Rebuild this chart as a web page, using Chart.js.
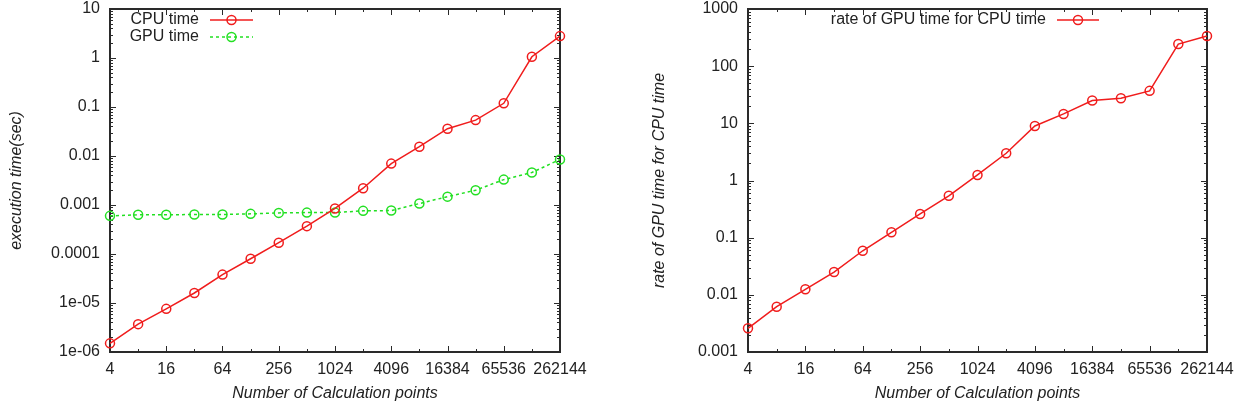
<!DOCTYPE html>
<html>
<head>
<meta charset="utf-8">
<script src="https://cdn.jsdelivr.net/npm/chart.js@4.4.1/dist/chart.umd.min.js"></script>
<style>
  html, body { margin: 0; padding: 0; background: #fff; overflow: hidden; }
  #c1 { position: absolute; left: 0; top: 0; }
  #c2 { position: absolute; left: 617px; top: 0; }
</style>
</head>
<body>
<canvas id="c1" width="617" height="405"></canvas>
<canvas id="c2" width="617" height="405"></canvas>
<script>
// ---- data ----
const calcPoints = [4, 8, 16, 32, 64, 128, 256, 512, 1024, 2048, 4096, 8192, 16384, 32768, 65536, 131072, 262144];
const cpuTime = [1.5e-6, 3.7e-6, 7.6e-6, 1.6e-5, 3.8e-5, 8.0e-5, 1.7e-4, 3.7e-4, 8.5e-4, 2.2e-3, 7.0e-3, 0.0155, 0.036, 0.054, 0.119, 1.06, 2.8];
const gpuTime = [6.0e-4, 6.3e-4, 6.3e-4, 6.4e-4, 6.4e-4, 6.6e-4, 6.9e-4, 7.0e-4, 7.0e-4, 7.6e-4, 7.7e-4, 1.07e-3, 1.48e-3, 2.0e-3, 3.3e-3, 4.6e-3, 8.5e-3];
const rateGpuCpu = [0.0026, 0.0062, 0.0125, 0.025, 0.059, 0.124, 0.26, 0.54, 1.25, 3.0, 9.0, 14.6, 25, 27.4, 37, 244, 337];

const xTickValues = [4, 16, 64, 256, 1024, 4096, 16384, 65536, 262144];
const xTickLabels = ['4', '16', '64', '256', '1024', '4096', '16384', '65536', '262144'];
const timeTickValues = [1e-6, 1e-5, 1e-4, 1e-3, 1e-2, 1e-1, 1, 10];
const timeTickLabels = ['1e-06', '1e-05', '0.0001', '0.001', '0.01', '0.1', '1', '10'];
const rateTickValues = [0.001, 0.01, 0.1, 1, 10, 100, 1000];
const rateTickLabels = ['0.001', '0.01', '0.1', '1', '10', '100', '1000'];

const xTitle = 'Number of Calculation points';
const leftYTitle = 'execution time(sec)';
const rightYTitle = 'rate of GPU time for CPU time';
const cpuLabel = 'CPU time';
const gpuLabel = 'GPU time';
const rateLabel = 'rate of GPU time for CPU time';

// ---- styles ----
const FONT = "'Liberation Sans', Arial, Helvetica, sans-serif";
const TEXT = '#222';
const RED = '#f01c1c';
const GREEN = '#22e022';

function pts(xs, ys) { return xs.map((x, i) => ({ x: x, y: ys[i] })); }

// frame + inward ticks (gnuplot style)
const framePlugin = {
  id: 'gframe',
  beforeDatasetsDraw(chart) {
    const { ctx, chartArea: a, scales } = chart;
    const xs = scales.x, ys = scales.y;
    ctx.save();
    ctx.strokeStyle = '#2a2a2a';
    ctx.lineWidth = 1;
    const major = 6, minor = 3;
    ctx.beginPath();
    for (let v = xs.min; v <= xs.max * 1.0001; v *= 2) {
      const px = Math.round(xs.getPixelForValue(v)) + 0.5;
      const isMajor = xTickValues.some(t => Math.abs(t - v) / t < 1e-6);
      const L = isMajor ? major : minor;
      ctx.moveTo(px, a.bottom); ctx.lineTo(px, a.bottom - L);
      ctx.moveTo(px, a.top); ctx.lineTo(px, a.top + L);
    }
    for (let d = ys.min; d < ys.max * 0.999; d *= 10) {
      for (let m = 1; m <= 9; m++) {
        const v = d * m;
        const py = Math.round(ys.getPixelForValue(v)) + 0.5;
        const L = m === 1 ? major : minor;
        ctx.moveTo(a.left, py); ctx.lineTo(a.left + L, py);
        ctx.moveTo(a.right, py); ctx.lineTo(a.right - L, py);
      }
    }
    ctx.stroke();
    ctx.lineWidth = 2;
    ctx.strokeStyle = '#2a2a2a';
    ctx.strokeRect(a.left, a.top, a.right - a.left, a.bottom - a.top);
    ctx.restore();
  }
};

// gnuplot-like key: text right-aligned, then line sample with marker
const keyPlugin = {
  id: 'gkey',
  afterDatasetsDraw(chart, args, opts) {
    const { ctx } = chart;
    ctx.save();
    ctx.font = '16px ' + FONT;
    ctx.textAlign = 'right';
    ctx.textBaseline = 'middle';
    chart.data.datasets.forEach((ds, i) => {
      const y = opts.y + i * opts.dy;
      ctx.fillStyle = TEXT;
      ctx.fillText(ds.label, opts.textRight, y);
      ctx.strokeStyle = ds.borderColor;
      ctx.lineWidth = ds.borderWidth;
      ctx.setLineDash(ds.borderDash || []);
      ctx.beginPath();
      ctx.moveTo(opts.x1, y); ctx.lineTo(opts.x2, y);
      ctx.stroke();
      ctx.setLineDash([]);
      ctx.lineWidth = ds.pointBorderWidth;
      ctx.beginPath();
      ctx.arc((opts.x1 + opts.x2) / 2, y, ds.pointRadius, 0, Math.PI * 2);
      ctx.stroke();
    });
    ctx.restore();
  }
};

function makeOptions(yTicks, yLabels, yTitle, yWidth, padRight, yTitlePad, key) {
  return {
    responsive: false,
    animation: false,
    devicePixelRatio: 1,
    layout: { padding: { top: 9, right: padRight, left: 0, bottom: 0 } },
    plugins: {
      legend: { display: false },
      tooltip: { enabled: false },
      gkey: key
    },
    scales: {
      x: {
        type: 'logarithmic',
        min: calcPoints[0],
        max: calcPoints[calcPoints.length - 1],
        grid: { display: false, drawTicks: false },
        border: { display: false },
        afterBuildTicks: s => { s.ticks = xTickValues.map(v => ({ value: v })); },
        afterFit: s => { s.height = 53; s.paddingLeft = 0; s.paddingRight = 0; },
        ticks: {
          autoSkip: false, maxRotation: 0, padding: 8, color: TEXT,
          font: { family: FONT, size: 16 },
          callback: (v) => { const i = xTickValues.findIndex(t => Math.abs(t - v) / t < 1e-6); return i >= 0 ? xTickLabels[i] : ''; }
        },
        title: {
          display: true, text: xTitle, color: TEXT,
          font: { family: FONT, size: 16, style: 'italic' },
          padding: { top: 0, bottom: 2 }
        }
      },
      y: {
        type: 'logarithmic',
        min: yTicks[0],
        max: yTicks[yTicks.length - 1],
        grid: { display: false, drawTicks: false },
        border: { display: false },
        afterBuildTicks: s => { s.ticks = yTicks.map(v => ({ value: v })); },
        afterFit: s => { s.width = yWidth; s.paddingTop = 0; s.paddingBottom = 0; },
        ticks: {
          autoSkip: false, padding: 10, color: TEXT,
          font: { family: FONT, size: 16 },
          callback: (v) => { const i = yTicks.findIndex(t => Math.abs(t - v) / t < 1e-6); return i >= 0 ? yLabels[i] : ''; }
        },
        title: {
          display: true, text: yTitle, color: TEXT,
          font: { family: FONT, size: 16, style: 'italic' },
          padding: { top: yTitlePad, bottom: 0 }
        }
      }
    }
  };
}

function lineDs(label, data, color, dash) {
  return {
    label: label,
    data: data,
    borderColor: color,
    backgroundColor: 'rgba(0,0,0,0)',
    borderWidth: 1.5,
    borderDash: dash,
    pointStyle: 'circle',
    pointRadius: 4.5,
    pointBorderWidth: 1.5,
    pointBorderColor: color,
    pointBackgroundColor: 'rgba(0,0,0,0)',
    fill: false,
    tension: 0,
    clip: false
  };
}

new Chart(document.getElementById('c1'), {
  type: 'line',
  data: {
    datasets: [
      lineDs(cpuLabel, pts(calcPoints, cpuTime), RED, []),
      lineDs(gpuLabel, pts(calcPoints, gpuTime), GREEN, [3, 3])
    ]
  },
  options: makeOptions(timeTickValues, timeTickLabels, leftYTitle, 110, 57, 7,
    { textRight: 199, y: 20, dy: 17, x1: 210, x2: 253 }),
  plugins: [framePlugin, keyPlugin]
});

new Chart(document.getElementById('c2'), {
  type: 'line',
  data: {
    datasets: [
      lineDs(rateLabel, pts(calcPoints, rateGpuCpu), RED, [])
    ]
  },
  options: makeOptions(rateTickValues, rateTickLabels, rightYTitle, 131, 27, 33,
    { textRight: 429, y: 20, dy: 17, x1: 440, x2: 482 }),
  plugins: [framePlugin, keyPlugin]
});
</script>
</body>
</html>
